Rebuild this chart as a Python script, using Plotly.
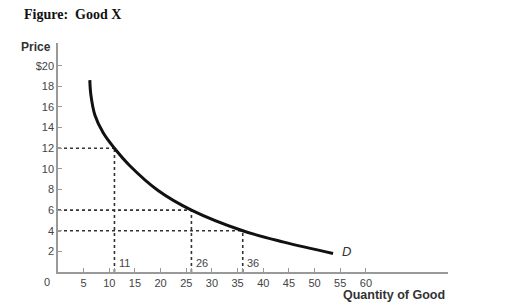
import plotly.graph_objects as go

# Demand curve points (quantity, price)
curve_q = [6.2, 6.4, 7.2, 8.8, 11, 14, 19.5, 26, 36, 44, 53.6]
curve_p = [18.6, 17.2, 15.2, 13.5, 12, 10.3, 7.9, 6, 4, 2.9, 1.8]

# Highlighted points
mark_q = [11, 26, 36]
mark_p = [12, 6, 4]

y_ticks = [2, 4, 6, 8, 10, 12, 14, 16, 18, 20]
y_text = ["2", "4", "6", "8", "10", "12", "14", "16", "18", "$20"]
x_ticks = [5, 10, 15, 20, 25, 30, 35, 40, 45, 50, 55, 60]

fig = go.Figure()

dot_color = "#333333"
for q, p in zip(mark_q, mark_p):
    fig.add_trace(go.Scatter(x=[0, q], y=[p, p], mode="lines",
                             line=dict(color=dot_color, width=1.6, dash="dot"),
                             hoverinfo="skip", showlegend=False))
    fig.add_trace(go.Scatter(x=[q, q], y=[0, p], mode="lines",
                             line=dict(color=dot_color, width=1.6, dash="dot"),
                             hoverinfo="skip", showlegend=False))

fig.add_trace(go.Scatter(x=curve_q, y=curve_p, mode="lines",
                         line=dict(color="#111111", width=3, shape="spline", smoothing=1.0),
                         showlegend=False))

font = "Liberation Sans, Arial, sans-serif"
gray = "#444444"

all_xt = x_ticks + mark_q
all_xtext = [str(v) for v in x_ticks] + ["" for _ in mark_q]

fig.update_layout(
    width=525, height=306,
    margin=dict(l=58, r=77, t=43, b=34),
    paper_bgcolor="white", plot_bgcolor="white",
    font=dict(family=font, size=11, color=gray),
    xaxis=dict(range=[0, 76], showgrid=False, zeroline=False, showline=True,
               linecolor="#999999", linewidth=1.5, ticks="inside", ticklen=4,
               tickcolor="#999999", tickvals=all_xt, ticktext=all_xtext,
               tickfont=dict(size=11, color=gray, family=font)),
    yaxis=dict(range=[0, 22.2], showgrid=False, zeroline=False, showline=True,
               linecolor="#999999", linewidth=1.5, ticks="inside", ticklen=4,
               tickcolor="#999999", tickvals=y_ticks, ticktext=y_text,
               tickfont=dict(size=11, color=gray, family=font)),
)


def px(x, y):
    return (x - 58) / 390, (272 - y) / 229


out = []
tx, ty = px(22, 14)
out.append(dict(text="<b>Figure:  Good X</b>", x=tx, y=ty, xanchor="left",
                font=dict(family="Liberation Serif, Times New Roman, serif", size=14, color="#111111")))
tx, ty = px(36, 47)
out.append(dict(text="<b>Price</b>", x=tx, y=ty, xanchor="center",
                font=dict(size=12, color="#333333", family=font)))
tx, ty = px(394, 295)
out.append(dict(text="<b>Quantity of Good</b>", x=tx, y=ty, xanchor="center",
                font=dict(size=12.5, color="#333333", family=font)))
tx, ty = px(47, 282)
out.append(dict(text="0", x=tx, y=ty, xanchor="center",
                font=dict(size=11, color=gray, family=font)))
for a in out:
    a.update(xref="paper", yref="paper", showarrow=False, yanchor="middle")

for q in mark_q:
    out.append(dict(x=q + 0.5, y=0.9, xref="x", yref="y", text=str(q), showarrow=False,
                    xanchor="left", yanchor="middle", font=dict(size=11, color=gray, family=font)))

out.append(dict(x=55.0, y=1.95, xref="x", yref="y", text="<i>D</i>", showarrow=False,
                xanchor="left", yanchor="middle", font=dict(size=13, color="#333333", family=font)))

fig.update_layout(annotations=out)
fig.write_html("out.html")
